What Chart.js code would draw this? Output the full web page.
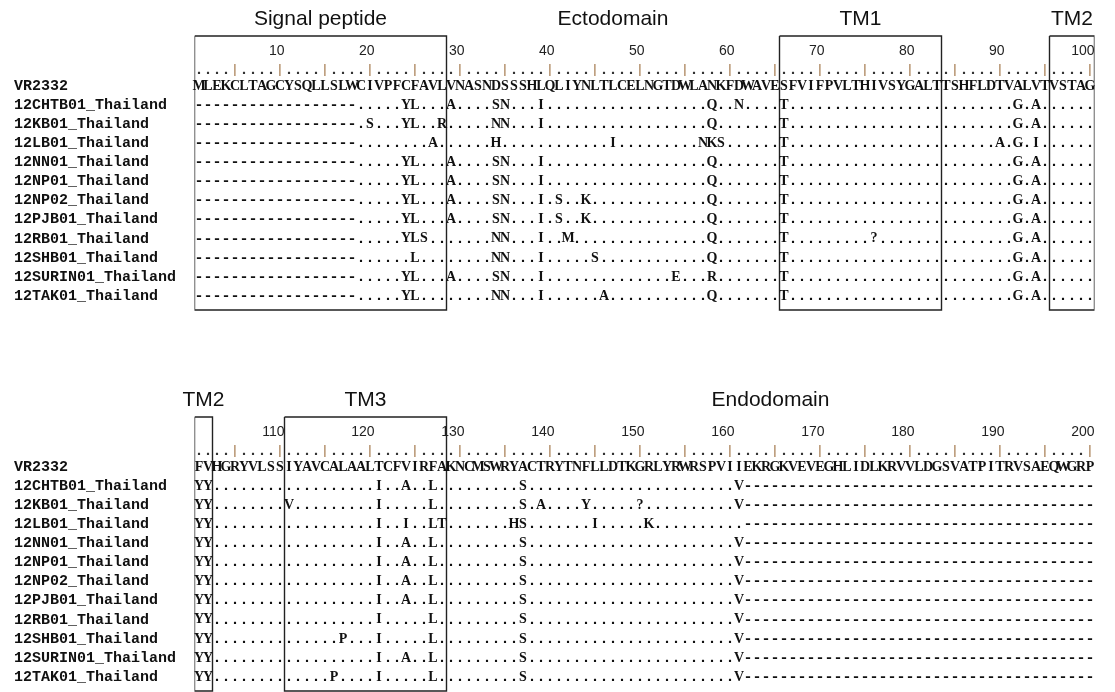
<!DOCTYPE html>
<html>
<head>
<meta charset="utf-8">
<script src="https://cdn.jsdelivr.net/npm/chart.js@4/dist/chart.umd.min.js"></script>
<style>
  html, body { margin: 0; padding: 0; background: #fff; }
  #wrap { position: relative; width: 1115px; height: 692px; overflow: hidden; }
  .block { position: absolute; left: 0; width: 1115px; height: 381px; }
</style>
</head>
<body>
<div id="wrap">
  <div class="block" style="top:0"><canvas id="topChart" width="1115" height="381"></canvas></div>
  <div class="block" style="top:381px"><canvas id="bottomChart" width="1115" height="381"></canvas></div>
</div>
<script>
(function () {

    // Data
    const refName = 'VR2332';
    const refSeq =
        'MLEKCLTAGCYSQLLSLWCIVPFCFAVLVNASNDSSSHLQLIYNLTLCELNGTDWLANKFDWAVESFVIFPVLTHIVSYGALTTSHFLDTVALVTVSTAG' +
        'FVHGRYVLSSIYAVCALAALTCFVIRFAKNCMSWRYACTRYTNFLLDTKGRLYRWRSPVIIEKRGKVEVEGHLIDLKRVVLDGSVATPITRVSAEQWGRP';

    const strainNames = [
        '12CHTB01_Thailand', '12KB01_Thailand', '12LB01_Thailand', '12NN01_Thailand',
        '12NP01_Thailand', '12NP02_Thailand', '12PJB01_Thailand', '12RB01_Thailand',
        '12SHB01_Thailand', '12SURIN01_Thailand', '12TAK01_Thailand'
    ];

    // residue + position, only where a strain differs from VR2332
    const strainSubs = [
        'Y24 L25 A29 S34 N35 I39 Q58 N61 T66 G92 A94 Y101 Y102 I121 A124 L127 S137 V161',
        'S20 Y24 L25 R28 N34 N35 I39 Q58 T66 G92 A94 Y101 Y102 V111 I121 L127 S137 A139 Y144 ?150 V161',
        'A27 H34 I47 N57 K58 S59 T66 A90 G92 I94 Y101 Y102 I121 I124 L127 T128 H136 S137 I145 K151',
        'Y24 L25 A29 S34 N35 I39 Q58 T66 G92 A94 Y101 Y102 I121 A124 L127 S137 V161',
        'Y24 L25 A29 S34 N35 I39 Q58 T66 G92 A94 Y101 Y102 I121 A124 L127 S137 V161',
        'Y24 L25 A29 S34 N35 I39 S41 K44 Q58 T66 G92 A94 Y101 Y102 I121 A124 L127 S137 V161',
        'Y24 L25 A29 S34 N35 I39 S41 K44 Q58 T66 G92 A94 Y101 Y102 I121 A124 L127 S137 V161',
        'Y24 L25 S26 N34 N35 I39 M42 Q58 T66 ?76 G92 A94 Y101 Y102 I121 L127 S137 V161',
        'L25 N34 N35 I39 S45 Q58 T66 G92 A94 Y101 Y102 P117 I121 L127 S137 V161',
        'Y24 L25 A29 S34 N35 I39 E54 R58 T66 G92 A94 Y101 Y102 I121 A124 L127 S137 V161',
        'Y24 L25 N34 N35 I39 A46 Q58 T66 G92 A94 Y101 Y102 P116 I121 L127 S137 V161'
    ];

    // gaps shared by all strains (start, end)
    const gapRanges = [[1, 18], [162, 200]];

    const domainNames = ['Signal peptide', 'Ectodomain', 'TM1', 'TM2', 'TM3', 'Endodomain'];
    const domainStart = [1, 29, 66, 96, 111, 129];
    const domainEnd   = [28, 65, 83, 102, 128, 200];
    const domainBoxed = [true, false, true, true, true, false];

    const rowLabels = [refName].concat(strainNames);

    // Layout (row units on the y scale)
    const ROW_PX = 19.1;
    const REF_Y = 86;
    const rowAt = px => (px - REF_Y) / ROW_PX;
    const Y_MIN = rowAt(0);
    const Y_MAX = rowAt(381);
    const TITLE_ROW = rowAt(19);
    const BOX_TOP = rowAt(36);
    const TICK_ROW = rowAt(51);
    const RULER_ROW = rowAt(70);
    const BOX_BOTTOM = rowAt(310);

    const serifBold = 'bold 14px "Liberation Serif"';
    const monoBold = 'bold 15px "Liberation Mono"';

    function parseSubs(str) {
        const out = {};
        str.split(' ').forEach(t => { out[Number(t.slice(1))] = t[0]; });
        return out;
    }

    function isGap(p) {
        return gapRanges.some(r => p >= r[0] && p <= r[1]);
    }

    // Draws the text attached to each point, at the point's scale position
    const textMarks = {
        id: 'textMarks',
        afterDatasetsDraw(chart) {
            const ctx = chart.ctx;
            chart.data.datasets.forEach((ds, di) => {
                if (!ds.kind) return;
                const meta = chart.getDatasetMeta(di);
                ctx.save();
                ctx.textBaseline = 'middle';
                meta.data.forEach((el, j) => {
                    const c = ds.data[j].c;
                    if (ds.kind === 'seq') {
                        ctx.textAlign = 'center';
                        ctx.fillStyle = '#111';
                        ctx.font = /[A-Z?]/.test(c) ? serifBold : monoBold;
                        ctx.fillText(c, el.x, el.y);
                    } else if (ds.kind === 'ruler') {
                        ctx.textAlign = 'center';
                        ctx.fillStyle = c === '|' ? '#9a6a3a' : '#333';
                        ctx.font = c === '|' ? '13px "Liberation Mono"' : monoBold;
                        ctx.fillText(c, el.x, el.y);
                    } else if (ds.kind === 'tick') {
                        ctx.textAlign = 'right';
                        ctx.fillStyle = '#222';
                        ctx.font = '14px "Liberation Sans"';
                        ctx.fillText(c, el.x + 4.5, el.y);
                    } else if (ds.kind === 'title') {
                        ctx.textAlign = 'center';
                        ctx.fillStyle = '#111';
                        ctx.font = '21px "Liberation Sans"';
                        ctx.fillText(c, el.x, el.y);
                    }
                });
                ctx.restore();
            });
        }
    };

    function buildBlock(canvasId, first, last) {
        const datasets = [];
        const hidden = { pointRadius: 0, pointHoverRadius: 0, showLine: false };

        const refPts = [];
        for (let p = first; p <= last; p++) refPts.push({ x: p, y: 0, c: refSeq[p - 1] });
        datasets.push(Object.assign({ kind: 'seq', data: refPts }, hidden));

        strainNames.forEach((name, i) => {
            const subs = parseSubs(strainSubs[i]);
            const pts = [];
            for (let p = first; p <= last; p++) {
                pts.push({ x: p, y: i + 1, c: subs[p] || (isGap(p) ? '-' : '.') });
            }
            datasets.push(Object.assign({ kind: 'seq', data: pts }, hidden));
        });

        const ruler = [];
        const ticks = [];
        for (let p = first; p <= last; p++) {
            ruler.push({ x: p, y: RULER_ROW, c: p % 5 === 0 ? '|' : '.' });
            if (p % 10 === 0) ticks.push({ x: p, y: TICK_ROW, c: String(p) });
        }
        datasets.push(Object.assign({ kind: 'ruler', data: ruler }, hidden));
        datasets.push(Object.assign({ kind: 'tick', data: ticks }, hidden));

        const titles = [];
        domainNames.forEach((name, i) => {
            const s = Math.max(domainStart[i], first);
            const e = Math.min(domainEnd[i], last);
            if (s > e) return;
            titles.push({ x: (s + e) / 2, y: TITLE_ROW, c: name });
            if (domainBoxed[i]) {
                datasets.push({
                    data: [
                        { x: s - 0.5, y: BOX_TOP }, { x: e + 0.5, y: BOX_TOP },
                        { x: e + 0.5, y: BOX_BOTTOM }, { x: s - 0.5, y: BOX_BOTTOM },
                        { x: s - 0.5, y: BOX_TOP }
                    ],
                    showLine: true,
                    borderColor: '#222',
                    borderWidth: 1.4,
                    pointRadius: 0,
                    fill: false,
                    tension: 0
                });
            }
        });
        datasets.push(Object.assign({ kind: 'title', data: titles }, hidden));

        new Chart(document.getElementById(canvasId).getContext('2d'), {
            type: 'scatter',
            data: { datasets: datasets },
            options: {
                responsive: false,
                animation: false,
                events: [],
                layout: { padding: { left: 14, right: 20.5, top: 0, bottom: 0 } },
                plugins: { legend: { display: false }, tooltip: { enabled: false } },
                scales: {
                    x: { type: 'linear', min: first - 0.5, max: last + 0.5, display: false },
                    y: {
                        type: 'linear', reverse: true, min: Y_MIN, max: Y_MAX,
                        grid: { display: false },
                        border: { display: false },
                        afterBuildTicks: s => { s.ticks = rowLabels.map((_, i) => ({ value: i })); },
                        afterFit: s => {
                            s.width = 180.5;
                            s.paddingTop = 0;
                            s.paddingBottom = 0;
                        },
                        ticks: {
                            autoSkip: false,
                            crossAlign: 'far',
                            padding: 0,
                            color: '#111',
                            font: { family: 'Liberation Mono', size: 15, weight: 'bold' },
                            callback: v => rowLabels[v]
                        }
                    }
                }
            },
            plugins: [textMarks]
        });
    }

    buildBlock('topChart', 1, 100);
    buildBlock('bottomChart', 101, 200);
})();
</script>
</body>
</html>
